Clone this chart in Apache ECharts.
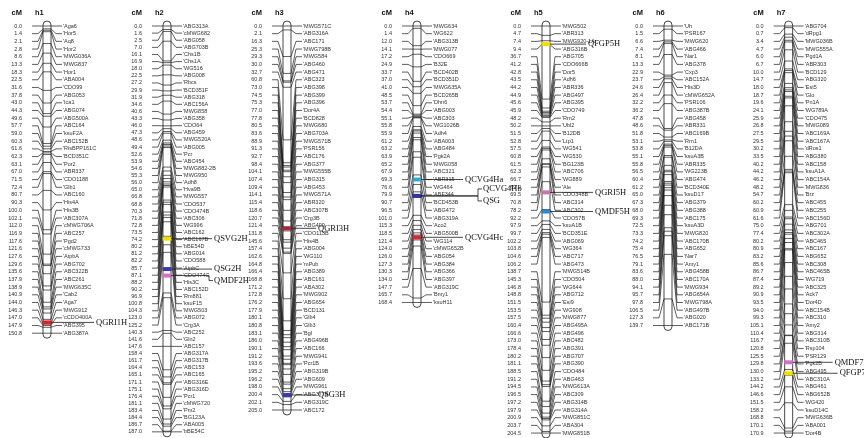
<!DOCTYPE html>
<html>
<head>
<meta charset="utf-8">
<script src="https://cdn.jsdelivr.net/npm/echarts@6/dist/echarts.min.js"></script>
<style>
  html, body { margin: 0; background: #fff; }
  #chart { width: 864px; height: 438px; }
</style>
</head>
<body>
<div id="chart"></div>
<script>
// linkage groups: marker positions (cM) and marker names
const h1Pos = [0.0, 1.4, 2.1, 2.8, 8.6, 13.3, 18.3, 22.5, 31.6, 37.8, 43.0, 44.3, 49.6, 57.7, 59.0, 60.3, 61.6, 62.3, 63.1, 67.0, 71.5, 72.4, 80.7, 90.3, 100.0, 102.1, 112.0, 116.9, 117.6, 121.6, 127.6, 129.6, 135.6, 137.9, 138.9, 140.9, 144.0, 146.3, 147.0, 147.9, 150.8];
const h1Markers = ['Aga6', 'Hor5', 'Aq8', 'Hor2', 'MWG036A', 'MWG837', 'Hor1', 'ABA004', 'CDO99', 'ABG053', 'Ica1', 'ABG074', 'ABG500A', 'ABC164', 'ksuF2A', 'ABC152B', 'RisBPP161C', 'BCD351C', 'Por2', 'ABR337', 'CDO1188', 'Glb1', 'ABC160', 'His4A', 'His3B', 'ABC307A', 'cMWG706A', 'ABC257', 'Pgd2', 'cMWG733', 'AtpbA', 'ABG702', 'ABC322B', 'ABC261', 'MWG635C', 'Cab2', 'Aga7', 'MWG912', 'cCDO400A', 'ABG395', 'ABG387A'];

const h2Pos = [0.0, 1.6, 2.5, 7.0, 16.1, 16.9, 18.0, 22.5, 27.2, 29.9, 31.9, 34.6, 40.6, 43.3, 46.0, 47.3, 48.6, 49.4, 52.6, 53.9, 54.6, 55.3, 56.0, 65.0, 66.8, 68.8, 70.3, 71.8, 72.8, 73.5, 74.2, 80.2, 81.2, 82.2, 85.7, 87.1, 88.2, 90.2, 96.9, 100.8, 104.3, 123.0, 125.2, 140.3, 141.6, 147.6, 158.4, 161.7, 164.4, 165.1, 171.1, 175.1, 176.4, 181.1, 183.4, 184.4, 186.7, 187.0];
const h2Markers = ['ABG313A', 'cMWG682', 'ABG058', 'ABG703B', 'Chs1B', 'Chs1A', 'WG516', 'ABG008', 'Rbcs', 'BCD351F', 'ABG318', 'ABC156A', 'MWG858', 'ABG358', 'CDO64', 'ABG459', 'MWG520A', 'ABG005', 'Pcr', 'ABC454', 'MWG882-2B', 'MWG950', 'Adh8', 'Hva9B', 'MWG557', 'CDO537', 'CDO474B', 'ABC306', 'WG996', 'ABC162', 'ABC167B', 'bBE54D', 'ABG014', 'CDO588', 'AtpbC', 'CDO474C', 'His3C', 'ABC152D', 'Rm881', 'ksuF15', 'MWG503', 'ABG072', 'Crg3A', 'ABC252', 'Gln2', 'ABC157', 'ABG317A', 'ABG317B', 'ABC153', 'ABC165', 'ABG316E', 'ABG316D', 'Pcr1', 'cMWG720', 'Pm2', 'BG123A', 'ABA005', 'bBE54C'];

const h3Pos = [0.0, 2.1, 16.3, 25.3, 29.3, 30.0, 32.7, 60.8, 73.0, 74.5, 75.3, 77.0, 77.8, 80.5, 83.6, 88.9, 91.3, 92.7, 98.4, 104.1, 107.4, 109.4, 114.1, 115.4, 118.6, 120.7, 121.4, 131.8, 145.6, 157.4, 162.6, 164.8, 166.4, 168.8, 171.2, 172.8, 176.2, 177.9, 180.1, 180.8, 183.1, 186.0, 190.1, 191.2, 193.6, 195.2, 196.2, 198.0, 200.4, 202.1, 205.0];
const h3Markers = ['MWG571C', 'ABG316A', 'ABC171', 'MWG798B', 'MWG584', 'ABG460', 'ABG471', 'ABC323', 'ABG398', 'ABG399', 'ABG396', 'Dor4A', 'BCD828', 'MWG680', 'ABG703A', 'MWG571B', 'PSR156', 'ABC176', 'ABG377', 'MWG555B', 'ABG315', 'ABG453', 'MWG571A', 'ABR320', 'ABC307B', 'Crg3B', 'ABG499', 'CDO113B', 'His4B', 'ABG004', 'WG110', 'mPub', 'ABG389', 'ABC161', 'ABA302', 'MWG902', 'ABG654', 'BCD131', 'Glb4', 'Glb3', 'Bgl', 'ABG496B', 'ABC166', 'MWG941', 'Pcr1B', 'ABG319B', 'ABG609', 'MWG961', 'ABG377B', 'ABG319C', 'ABC172'];

const h4Pos = [0.0, 1.4, 12.0, 14.1, 17.2, 24.9, 33.7, 37.0, 41.0, 48.5, 53.7, 54.4, 55.1, 55.8, 55.9, 61.2, 63.2, 63.9, 65.2, 67.9, 69.3, 76.6, 79.9, 90.7, 96.5, 101.0, 115.3, 118.5, 121.4, 124.0, 126.0, 127.3, 130.3, 134.0, 147.7, 165.7, 168.4];
const h4Markers = ['MWG634', 'WG622', 'ABG313B', 'MWG077', 'CDO669', 'B32E', 'BCD402B', 'BCD351D', 'MWG635A', 'BCD265B', 'Dhn6', 'ABG003', 'ABC303', 'WG1026B', 'Adh4', 'ABA003', 'ABG484', 'Pgk2A', 'MWG058', 'ABC321', 'ABR315', 'WG464', 'ABF344', 'BCD453B', 'ABG472', 'ABG319A', 'Aco2', 'ABG500B', 'WG114', 'cMWG652B', 'ABG054', 'ABG384', 'ABG366', 'ABG397', 'ABG319C', 'Bmy1', 'ksuH11'];

const h5Pos = [0.0, 4.7, 7.4, 9.4, 36.7, 41.2, 42.8, 43.5, 44.2, 44.9, 45.6, 45.9, 48.2, 50.2, 51.5, 52.8, 57.5, 60.8, 61.5, 62.3, 66.7, 69.2, 69.5, 70.8, 78.2, 92.2, 97.9, 99.7, 102.2, 103.8, 104.6, 106.2, 138.7, 145.3, 146.8, 148.8, 151.5, 153.5, 157.5, 160.4, 166.6, 173.0, 178.4, 180.2, 181.1, 188.5, 191.2, 194.5, 196.5, 197.2, 197.9, 200.9, 203.7, 204.5];
const h5Markers = ['MWG502', 'ABR313', 'MWG920-1A', 'ABG316B', 'ABG705', 'CDO666B', 'Dor5', 'Adh6', 'ABR336', 'ABG497', 'ABG395', 'CDO749', 'Rrn2', 'Ubl2', 'B12DB', 'Ltp1', 'WG541', 'WG530', 'BG123B', 'ABC706', 'WG889', 'Ale', 'CDO348B', 'ABC314', 'ABC302', 'CDO57B', 'ksuA1B', 'BCD351E', 'ABG069', 'WG364', 'ABC717', 'ABG473', 'MWG514B', 'CDO504', 'WG644', 'ABG712', 'Esi9', 'WG908', 'MWG877', 'ABG495A', 'ABG496', 'ABC482', 'ABG391', 'ABG707', 'ABG390', 'CDO484', 'ABG463', 'MWG613A', 'ABC309', 'ABG314B', 'ABG314A', 'MWG851C', 'ABA304', 'MWG851B'];

const h6Pos = [0.0, 1.5, 6.6, 7.4, 8.1, 13.3, 22.9, 23.7, 24.6, 26.4, 32.2, 36.2, 47.8, 48.6, 51.8, 53.1, 53.8, 55.1, 55.8, 56.5, 60.4, 61.2, 65.0, 67.3, 68.0, 69.3, 72.5, 73.3, 74.2, 75.4, 76.5, 79.1, 83.6, 88.0, 94.1, 95.7, 97.8, 106.5, 127.3, 139.7];
const h6Markers = ['Uh', 'PSR167', 'MWG620', 'ABG466', 'Nar1', 'ABG378', 'Cxp3', 'ABC152A', 'His3D', 'cMWG652A', 'PSR106', 'ABG387B', 'ABG458', 'ABR331', 'ABC169B', 'Rrn1', 'B12DA', 'ksuA3B', 'ABR335', 'WG223B', 'ABG474', 'BCD340E', 'ksuD17', 'ABG379', 'ABG388', 'ABC175', 'ksuA3D', 'MWG820', 'ABC170B', 'ABG652', 'Nar7', 'Amy1', 'ABG458B', 'ABC170A', 'MWG934', 'ABG654A', 'MWG798A', 'ABG497B', 'ABG020', 'ABC171B'];

const h7Pos = [0.0, 0.7, 3.4, 4.7, 6.0, 6.7, 10.0, 14.7, 18.0, 18.7, 19.6, 24.1, 25.9, 26.8, 27.5, 29.5, 30.2, 33.5, 40.2, 44.2, 46.2, 48.2, 54.7, 60.2, 60.9, 61.6, 75.0, 77.4, 80.2, 80.9, 83.2, 85.6, 86.7, 87.4, 89.2, 90.9, 93.5, 94.0, 99.3, 105.1, 110.4, 116.7, 120.8, 125.5, 129.8, 130.0, 133.2, 144.2, 146.6, 151.5, 158.2, 168.8, 170.1, 170.9];
const h7Markers = ['ABG704', 'dRpg1', 'MWG036B', 'MWG555A', 'Pgd1A', 'ABR303', 'BCD129', 'ABG320', 'Est5', 'Glo', 'Pn1A', 'WG789A', 'CDO475', 'MWG089', 'ABC169A', 'ABC167A', 'dRos1', 'ABG380', 'ABC158', 'ksuA1A', 'ABC154A', 'MWG836', 'Brz', 'ABC455', 'ABC255', 'ABC156D', 'ABG701', 'ABC302A', 'ABC465', 'ABC167', 'ABG652', 'ABC308', 'ABC465B', 'WG719', 'ABC325', 'Ack7', 'Dor4D', 'ABC154B', 'ABC310', 'Amy2', 'ABG314', 'ABC310B', 'Rsp104', 'PSR129', 'Pgk2B', 'ABG495', 'ABC310A', 'ABG461', 'ABG652B', 'WG420', 'ksuD14C', 'MWG636B', 'ABA001', 'Dor4B'];

const groupNames = ['h1', 'h2', 'h3', 'h4', 'h5', 'h6', 'h7'];
const groupPos = [h1Pos, h2Pos, h3Pos, h4Pos, h5Pos, h6Pos, h7Pos];
const groupMarkers = [h1Markers, h2Markers, h3Markers, h4Markers, h5Markers, h6Markers, h7Markers];

// QTL positions (cM)
const qtlNames = ['QGRI1H', 'QSVG2H', 'QSG2H', 'QMDF2H', 'QGRI3H', 'QSG3H', 'QCVG4Ha', 'QCVG4Hb', 'QSG', 'QCVG4Hc', 'QFGP5H', 'QGRI5H', 'QMDF5H', 'QMDF7H', 'QFGP7H'];
const qtlGroup = ['h1', 'h2', 'h2', 'h2', 'h3', 'h3', 'h4', 'h4', 'h4', 'h4', 'h5', 'h5', 'h5', 'h7', 'h7'];
const qtlPos = [145.5, 98.0, 112.0, 115.0, 108.0, 197.0, 93.5, 103.5, 103.5, 128.7, 9.1, 83.6, 93.2, 141.2, 145.8];

// layout
const barLeft = [43, 163, 283, 413, 542, 664, 785];
const rowStep = [7.68, 7.12, 7.68, 7.68, 7.68, 7.68, 7.68];
const TOP = 26;
const BAR_AT = 40;
const BAR_W = 8;
const qtlColor = {
  QGRI1H: '#d8232a', QSVG2H: '#f0e000', QSG2H: '#3a3ab0', QMDF2H: '#d070c8',
  QGRI3H: '#a8283c', QSG3H: '#3a3ab0', QCVG4Ha: '#35a7d0', QCVG4Hb: '#33339a',
  QSG: '#33339a', QCVG4Hc: '#d42a36', QFGP5H: '#f0e000', QGRI5H: '#c874b0',
  QMDF5H: '#2f86c8', QMDF7H: '#d070c8', QFGP7H: '#f0e000'
};
const qtlLabelDx = [53, 51, 51, 51, 35, 35, 52, 70, 70, 52, 46, 53, 53, 50, 55];
const qtlLabelDy = [0, 0, 0, 5, 0, 0, 0, -7, 5, 0, 0, 0, 0, 0, 0];

const SANS = '"Liberation Sans", Arial, sans-serif';
const SERIF = '"Liberation Serif", "Times New Roman", serif';
const INK = '#1a1a1a';

const chart = echarts.init(document.getElementById('chart'));

const grids = [];
const xAxes = [];
const yAxes = [];
const series = [];

groupNames.forEach((g, gi) => {
  const pos = groupPos[gi];
  const markers = groupMarkers[gi];
  const maxCm = pos[pos.length - 1];
  const n = pos.length;

  grids.push({ left: barLeft[gi] - BAR_AT, top: TOP, width: 120, height: (n - 1) * rowStep[gi] });
  xAxes.push({ gridIndex: gi, type: 'value', min: 0, max: 120, show: false });
  yAxes.push({ gridIndex: gi, type: 'value', min: 0, max: maxCm, inverse: true, show: false });

  // chromosome bar + headers
  series.push({
    type: 'custom',
    xAxisIndex: gi,
    yAxisIndex: gi,
    clip: false,
    z: 1,
    silent: true,
    data: [[0, maxCm]],
    renderItem: function (params, api) {
      const p0 = api.coord([BAR_AT, 0]);
      const p1 = api.coord([BAR_AT, maxCm]);
      return {
        type: 'group',
        children: [
          {
            type: 'rect',
            shape: { x: p0[0], y: p0[1] - 5, width: BAR_W, height: p1[1] - p0[1] + 10, r: 4 },
            style: { fill: '#fff', stroke: INK, lineWidth: 0.8 }
          },
          {
            type: 'text',
            style: { text: 'cM', x: p0[0] - 21, y: p0[1] - 13, align: 'right', verticalAlign: 'middle', fontSize: 7.5, fontWeight: 'bold', fontFamily: SANS, fill: '#111' }
          },
          {
            type: 'text',
            style: { text: g, x: p0[0] - 8, y: p0[1] - 13, align: 'left', verticalAlign: 'middle', fontSize: 7.5, fontWeight: 'bold', fontFamily: SANS, fill: '#111' }
          }
        ]
      };
    }
  });

  // markers: position label, connectors, marker label
  series.push({
    type: 'custom',
    xAxisIndex: gi,
    yAxisIndex: gi,
    clip: false,
    z: 2,
    silent: true,
    data: pos.map((p, i) => [p, i * maxCm / (n - 1)]),
    renderItem: function (params, api) {
      const i = params.dataIndex;
      const b = api.coord([BAR_AT, api.value(0)]);
      const r = api.coord([BAR_AT, api.value(1)]);
      const x = b[0], yb = b[1], yr = r[1];
      return {
        type: 'group',
        children: [
          {
            type: 'text',
            style: { text: api.value(0).toFixed(1), x: x - 21, y: yr, align: 'right', verticalAlign: 'middle', fontSize: 5.5, fontFamily: SANS, fill: '#333' }
          },
          {
            type: 'polyline',
            shape: { points: [[x - 11, yr], [x - 5, yr], [x, yb], [x + BAR_W, yb], [x + BAR_W + 5, yr], [x + BAR_W + 11, yr]] },
            style: { stroke: INK, lineWidth: 0.7, fill: null }
          },
          {
            type: 'text',
            style: { text: "'" + markers[i], x: x + BAR_W + 12, y: yr, align: 'left', verticalAlign: 'middle', fontSize: 5.5, fontFamily: SANS, fill: '#333' }
          }
        ]
      };
    }
  });

  // QTLs on this group
  const qIdx = qtlGroup.map((qg, qi) => (qg === g ? qi : -1)).filter(qi => qi >= 0);
  if (qIdx.length) {
    series.push({
      type: 'custom',
      xAxisIndex: gi,
      yAxisIndex: gi,
      clip: false,
      z: 3,
      silent: true,
      data: qIdx.map(qi => [qtlPos[qi], qi]),
      renderItem: function (params, api) {
        const qi = api.value(1);
        const name = qtlNames[qi];
        const p = api.coord([BAR_AT, api.value(0)]);
        const x = p[0], y = p[1];
        const lx = x + qtlLabelDx[qi];
        const ly = y + qtlLabelDy[qi];
        const pts = qtlLabelDy[qi] === 0
          ? [[x + BAR_W, y], [lx - 2, y]]
          : [[x + BAR_W, y], [lx - 5, y], [lx - 5, ly], [lx - 1, ly]];
        return {
          type: 'group',
          children: [
            {
              type: 'rect',
              shape: { x: x - 0.5, y: y - 2, width: BAR_W + 1, height: 4 },
              style: { fill: qtlColor[name], stroke: null }
            },
            {
              type: 'polyline',
              shape: { points: pts },
              style: { stroke: INK, lineWidth: 0.8, fill: null }
            },
            {
              type: 'text',
              style: { text: name, x: lx, y: ly, align: 'left', verticalAlign: 'middle', fontSize: 8.5, fontFamily: SERIF, fill: '#111' }
            }
          ]
        };
      }
    });
  }
});

chart.setOption({
  animation: false,
  backgroundColor: '#fff',
  grid: grids,
  xAxis: xAxes,
  yAxis: yAxes,
  series: series
});
</script>
</body>
</html>
